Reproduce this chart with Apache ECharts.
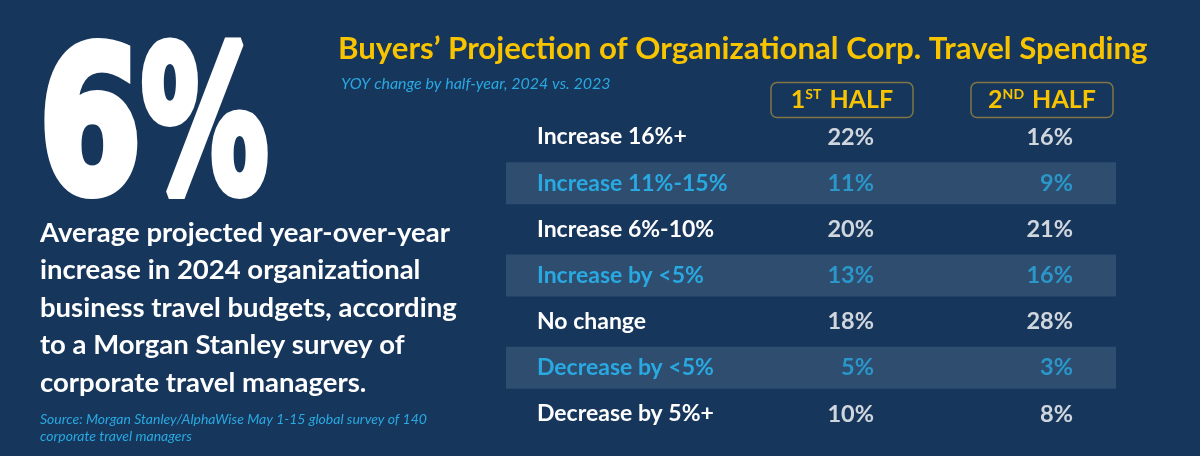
<!DOCTYPE html>
<html>
<head>
<meta charset="utf-8">
<script src="https://cdn.jsdelivr.net/npm/echarts@6/dist/echarts.min.js"></script>
<style>
html,body{margin:0;padding:0;background:#17365c;}
#chart{width:1200px;height:456px;}
</style>
</head>
<body>
<div id="chart"></div>
<script>
const rowLabels = ['Increase 16%+', 'Increase 11%-15%', 'Increase 6%-10%', 'Increase by <5%', 'No change', 'Decrease by <5%', 'Decrease by 5%+'];
const columnLabels = ['1ST HALF', '2ND HALF'];
const firstHalf = [22, 11, 20, 13, 18, 5, 10];
const secondHalf = [16, 9, 21, 16, 28, 3, 8];
const headlineValue = '6%';

const WHITE = '#ffffff';
const BLUE = '#29a9e1';
const YELLOW = '#f8c400';
const STRIPE = '#2f4d6f';
const rowColor = i => (i % 2 ? BLUE : WHITE);

const chart = echarts.init(document.getElementById('chart'));

function valueSeries(values, col, offsetX) {
  return {
    type: 'scatter',
    xAxisIndex: 1,
    yAxisIndex: 1,
    symbolSize: 0,
    silent: true,
    data: values.map((v, i) => ({
      value: [col, i, v],
      label: { color: rowColor(i) }
    })),
    label: {
      show: true,
      position: 'inside',
      align: 'right',
      offset: [offsetX, 0],
      fontFamily: 'Lato',
      fontWeight: 'bold',
      fontSize: 23.5,
      formatter: p => p.value[2] + '%'
    }
  };
}

function bigText(text, x, scaleX) {
  return {
    type: 'text',
    x: x, y: 40,
    scaleX: scaleX, scaleY: 1,
    style: {
      text: text,
      x: 0, y: 0,
      fill: WHITE,
      stroke: WHITE,
      lineWidth: 10,
      lineJoin: 'round',
      font: 'bold 199px "DejaVu Sans"',
      verticalAlign: 'top'
    }
  };
}

chart.setOption({
  backgroundColor: '#17365c',
  animation: false,
  title: [
    {
      text: 'Buyers\u2019 Projection of Organizational Corp. Travel Spending',
      left: 333, top: 28,
      textStyle: { color: YELLOW, fontFamily: 'Lato', fontWeight: 'bold', fontSize: 31.2 }
    },
    {
      text: 'YOY change by half-year, 2024 vs. 2023',
      left: 336, top: 71,
      textStyle: { color: BLUE, fontFamily: 'Lato', fontStyle: 'italic', fontWeight: 'normal', fontSize: 16 }
    },
    {
      text: 'Average projected year-over-year\nincrease in 2024 organizational\nbusiness travel budgets, according\nto a Morgan Stanley survey of\ncorporate travel managers.',
      left: 35, top: 209,
      textStyle: { color: WHITE, fontFamily: 'Lato', fontWeight: 'bold', fontSize: 27.5, lineHeight: 37.5 }
    },
    {
      text: 'Source: Morgan Stanley/AlphaWise May 1-15 global survey of 140\ncorporate travel managers',
      left: 35, top: 406,
      textStyle: { color: BLUE, fontFamily: 'Lato', fontStyle: 'italic', fontWeight: 'normal', fontSize: 14, lineHeight: 17 }
    }
  ],
  graphic: [
    bigText(headlineValue.slice(0, -1), 39, 0.74),
    bigText(headlineValue.slice(-1), 141, 0.64)
  ],
  grid: [
    { left: 506, right: 84, top: 114, bottom: 19 },
    { left: 742, right: 58, top: 114, bottom: 19 }
  ],
  xAxis: [
    { gridIndex: 0, type: 'value', min: 0, max: 1, show: false },
    {
      gridIndex: 1, type: 'category', position: 'top', data: columnLabels,
      axisLine: { show: false }, axisTick: { show: false }, splitLine: { show: false },
      axisLabel: {
        margin: 14,
        verticalAlign: 'middle',
        formatter: v => {
          const m = v.match(/^(\d)(\w\w) (.*)$/);
          return '{n|' + m[1] + '}{s|' + m[2] + '}{n| ' + m[3] + '}';
        },
        borderColor: '#7f7643',
        borderWidth: 1.5,
        borderRadius: 6,
        width: 142,
        height: 35,
        align: 'center',
        rich: {
          n: { color: YELLOW, fontFamily: 'Lato', fontWeight: 'bold', fontSize: 25, height: 35, lineHeight: 35 },
          s: { color: YELLOW, fontFamily: 'Lato', fontWeight: 'bold', fontSize: 14, padding: [0, 2, 12, 0] }
        }
      }
    }
  ],
  yAxis: [
    {
      gridIndex: 0, type: 'category', inverse: true, data: rowLabels, z: 5,
      axisLine: { show: false }, axisTick: { show: false }, splitLine: { show: false },
      axisLabel: {
        inside: true,
        margin: 31,
        fontFamily: 'Lato',
        fontWeight: 'bold',
        fontSize: 23,
        color: (v, i) => rowColor(i)
      }
    },
    {
      gridIndex: 1, type: 'category', inverse: true, data: rowLabels, show: false
    }
  ],
  series: [
    {
      type: 'bar',
      xAxisIndex: 0,
      yAxisIndex: 0,
      barWidth: 42,
      silent: true,
      itemStyle: { color: STRIPE },
      data: rowLabels.map((r, i) => (i % 2 ? 1 : '-')),
      z: 1
    },
    valueSeries(firstHalf, 0, 32),
    valueSeries(secondHalf, 1, 31)
  ]
});
</script>
</body>
</html>
